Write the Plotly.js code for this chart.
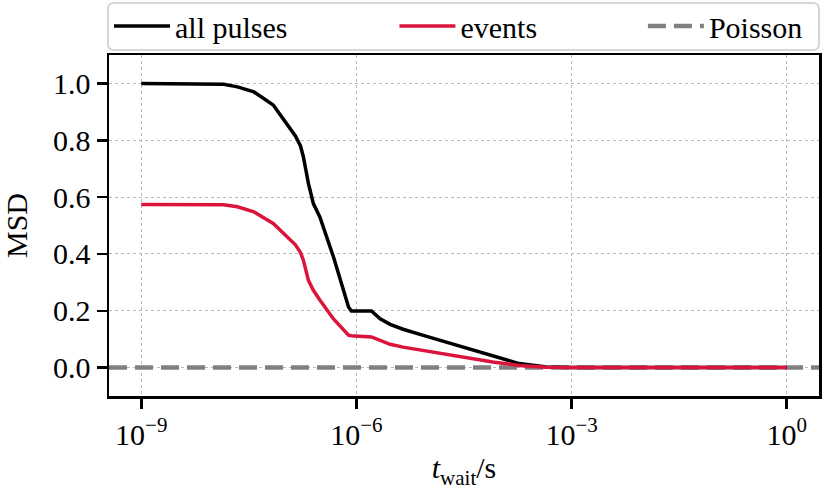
<!DOCTYPE html>
<html>
<head>
<meta charset="utf-8">
<script src="https://cdn.plot.ly/plotly-3.0.1.min.js"></script>
<style>
  html, body { margin: 0; padding: 0; background: #fff; }
  #chart { width: 830px; height: 498px; }
</style>
</head>
<body>
<div id="chart"></div>
<script>
// waiting time in seconds
const waitTimes = [
    1.0e-9, 1.0e-8, 1.41e-8, 2.19e-8, 3.72e-8, 6.92e-8, 1.07e-7, 1.41e-7, 1.66e-7,
    1.82e-7, 2.14e-7, 2.51e-7, 3.09e-7, 4.79e-7, 7.76e-7, 8.51e-7, 1.62e-6,
    2.14e-6, 2.95e-6, 4.47e-6, 9.55e-6, 2.75e-5, 7.94e-5, 1.86e-4, 4.47e-4,
    1.0e-3, 1.0e-2, 1.0e-1, 1.0
];
const msdAllPulses = [
    1.000, 1.000, 0.997, 0.988, 0.970, 0.924, 0.859, 0.815, 0.780,
    0.742, 0.648, 0.577, 0.530, 0.389, 0.213, 0.199, 0.199,
    0.172, 0.152, 0.135, 0.110, 0.075, 0.040, 0.014, 0.002,
    0.000, 0.000, 0.000, 0.000
];
const msdEvents = [
    0.574, 0.574, 0.573, 0.566, 0.548, 0.507, 0.460, 0.432, 0.405,
    0.378, 0.307, 0.272, 0.238, 0.171, 0.114, 0.112, 0.108,
    0.095, 0.082, 0.072, 0.058, 0.040, 0.020, 0.007, 0.001,
    0.000, 0.000, 0.000, 0.000
];
const poissonMSD = 0;

const xTickVals = [1e-9, 1e-6, 1e-3, 1];
const xTickText = ['10<sup>−9</sup>', '10<sup>−6</sup>', '10<sup>−3</sup>', '10<sup>0</sup>'];
const yTickVals = [0, 0.2, 0.4, 0.6, 0.8, 1.0];
const yTickText = ['0.0', '0.2', '0.4', '0.6', '0.8', '1.0'];

// axis limits (log10 for x)
const xRangeLog = [-9.45, 0.45];
const yRange = [-0.1, 1.1];

const serif = 'Liberation Serif, DejaVu Serif, serif';
const fontSize = 30;

const traces = [
    {
        // horizontal reference spanning the whole axis
        x: [Math.pow(10, xRangeLog[0]), Math.pow(10, xRangeLog[1])],
        y: [poissonMSD, poissonMSD],
        name: 'Poisson',
        mode: 'lines',
        line: { color: '#808080', width: 4.5, dash: '18px,8px' },
        legend: 'legend3',
        hoverinfo: 'skip'
    },
    {
        x: waitTimes,
        y: msdAllPulses,
        name: 'all pulses',
        mode: 'lines',
        line: { color: '#000000', width: 3.5 },
        legend: 'legend'
    },
    {
        x: waitTimes,
        y: msdEvents,
        name: 'events',
        mode: 'lines',
        line: { color: '#dc143c', width: 3.5 },
        legend: 'legend2'
    }
];

const axisCommon = {
    showline: true,
    linecolor: '#000',
    linewidth: 2.5,
    mirror: true,
    ticks: 'outside',
    ticklen: 10,
    tickwidth: 2.5,
    tickcolor: '#000',
    showgrid: true,
    gridcolor: '#b8b8b8',
    gridwidth: 1,
    griddash: 'dot',
    zeroline: false,
    tickfont: { family: serif, size: fontSize, color: '#000' }
};

const legendCommon = {
    orientation: 'h',
    yref: 'paper',
    y: 1.085,
    yanchor: 'middle',
    xanchor: 'left',
    bgcolor: 'rgba(0,0,0,0)',
    borderwidth: 0,
    itemwidth: 56,
    font: { family: serif, size: fontSize, color: '#000' }
};

// legend frame (rounded), paper units
const fx0 = -0.0014, fx1 = 1.0, fy0 = 1.0147, fy1 = 1.1525;
const rx = 6 / 710, ry = 6 / 341;
const framePath =
    `M${fx0 + rx},${fy0} L${fx1 - rx},${fy0} Q${fx1},${fy0} ${fx1},${fy0 + ry} ` +
    `L${fx1},${fy1 - ry} Q${fx1},${fy1} ${fx1 - rx},${fy1} ` +
    `L${fx0 + rx},${fy1} Q${fx0},${fy1} ${fx0},${fy1 - ry} ` +
    `L${fx0},${fy0 + ry} Q${fx0},${fy0} ${fx0 + rx},${fy0} Z`;

const layout = {
    width: 830,
    height: 498,
    margin: { l: 109, r: 11, t: 55, b: 102, autoexpand: false },
    paper_bgcolor: '#fff',
    plot_bgcolor: '#fff',
    font: { family: serif, size: fontSize, color: '#000' },
    showlegend: true,
    xaxis: {
        ...axisCommon,
        type: 'log',
        range: xRangeLog,
        tickmode: 'array',
        tickvals: xTickVals,
        ticktext: xTickText,
        title: {
            text: '<i>t</i><sub>wait</sub>/s',
            font: { family: serif, size: fontSize, color: '#000' },
            standoff: 8
        }
    },
    yaxis: {
        ...axisCommon,
        range: yRange,
        tickmode: 'array',
        tickvals: yTickVals,
        ticktext: yTickText,
        title: {
            text: 'MSD',
            font: { family: serif, size: fontSize, color: '#000' },
            standoff: 26
        }
    },
    legend: { ...legendCommon, x: 0.0 },
    legend2: { ...legendCommon, x: 0.402 },
    legend3: { ...legendCommon, x: 0.752 },
    shapes: [
        {
            type: 'path',
            xref: 'paper',
            yref: 'paper',
            path: framePath,
            line: { color: '#d6d6d6', width: 2 },
            fillcolor: 'rgba(255,255,255,0.8)',
            layer: 'below'
        }
    ]
};

Plotly.newPlot('chart', traces, layout, { displayModeBar: false, staticPlot: true });
</script>
</body>
</html>
